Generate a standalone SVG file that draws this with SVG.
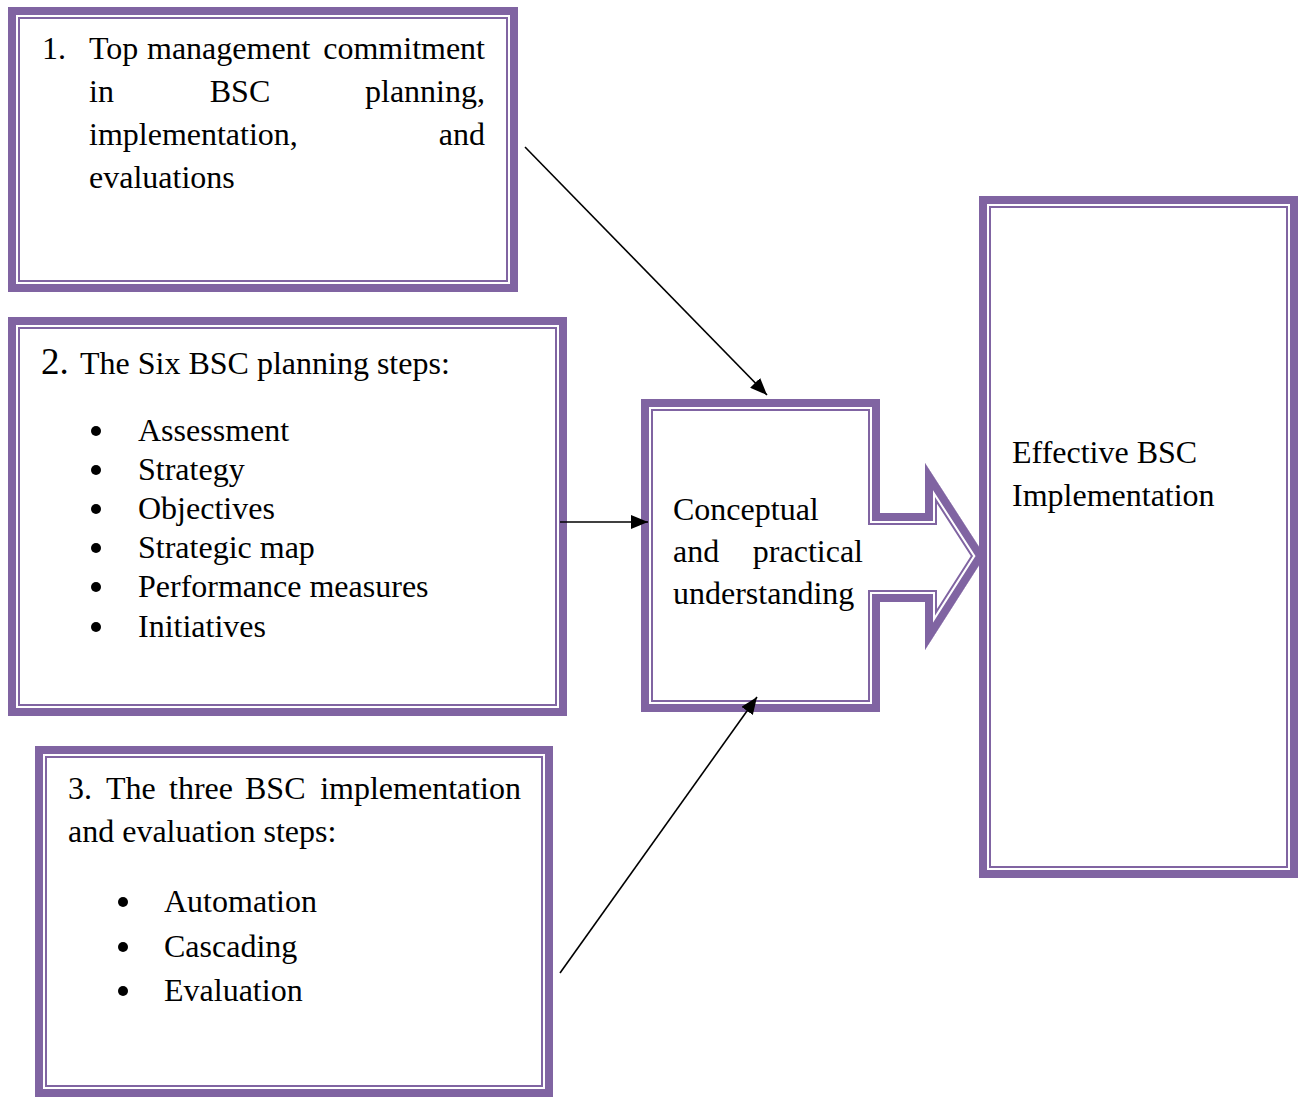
<svg xmlns="http://www.w3.org/2000/svg" width="1301" height="1097" viewBox="0 0 1301 1097">
<style>
.thick{fill:none;stroke:#8064A2;stroke-width:8}
.thin{fill:none;stroke:#8064A2;stroke-width:2}
.t{font-family:"Liberation Serif","Times New Roman",serif;font-size:32px;fill:#000}
.num{font-family:"Liberation Serif","Times New Roman",serif;font-size:37px;fill:#000}
.conn{stroke:#000;stroke-width:1.6;fill:none}
.bul{fill:#000}
</style>
<defs>
<marker id="ah" markerUnits="userSpaceOnUse" markerWidth="18" markerHeight="14" refX="17" refY="7" orient="auto">
<path d="M0,0 L17,7 L0,14 Z" fill="#000"/>
</marker>
<polygon id="cshape" points="641,399 880,399 880,513 925,513 925,463 985,556 925,650 925,602 880,602 880,712 641,712"/>
<clipPath id="cclip"><use href="#cshape"/></clipPath>
</defs>
<rect width="1301" height="1097" fill="#fff"/>

<g id="box1">
<rect class="thick" x="12" y="11" width="502" height="277"/>
<rect class="thin" x="19" y="18" width="488" height="263"/>
<text class="t" x="42" y="59">1.</text>
<text class="t" x="89" y="59">Top</text>
<text class="t" x="147" y="59">management</text>
<text class="t" x="485" y="59" text-anchor="end">commitment</text>
<text class="t" x="89" y="102">in</text>
<text class="t" x="240" y="102" text-anchor="middle">BSC</text>
<text class="t" x="485" y="102" text-anchor="end">planning,</text>
<text class="t" x="89" y="145">implementation,</text>
<text class="t" x="485" y="145" text-anchor="end">and</text>
<text class="t" x="89" y="188">evaluations</text>
</g>

<g id="box2">
<rect class="thick" x="12" y="321" width="551" height="391"/>
<rect class="thin" x="19" y="328" width="537" height="377"/>
<text class="num" x="41" y="374">2.</text>
<text class="t" x="80" y="374">The Six BSC planning steps:</text>
<g class="bul">
<circle cx="96" cy="431" r="5"/>
<circle cx="96" cy="470" r="5"/>
<circle cx="96" cy="509" r="5"/>
<circle cx="96" cy="548" r="5"/>
<circle cx="96" cy="587" r="5"/>
<circle cx="96" cy="627" r="5"/>
</g>
<g class="t">
<text x="138" y="441">Assessment</text>
<text x="138" y="480">Strategy</text>
<text x="138" y="519">Objectives</text>
<text x="138" y="558">Strategic map</text>
<text x="138" y="597">Performance measures</text>
<text x="138" y="637">Initiatives</text>
</g>
</g>

<g id="box3">
<rect class="thick" x="39" y="750" width="510" height="343"/>
<rect class="thin" x="46" y="757" width="496" height="329"/>
<text class="t" x="68" y="799">3.</text>
<text class="t" x="106" y="799">The</text>
<text class="t" x="169" y="799">three</text>
<text class="t" x="245" y="799">BSC</text>
<text class="t" x="521" y="799" text-anchor="end">implementation</text>
<text class="t" x="68" y="842">and evaluation steps:</text>
<g class="bul">
<circle cx="123" cy="902" r="5"/>
<circle cx="123" cy="947" r="5"/>
<circle cx="123" cy="991" r="5"/>
</g>
<g class="t">
<text x="164" y="912">Automation</text>
<text x="164" y="957">Cascading</text>
<text x="164" y="1001">Evaluation</text>
</g>
</g>

<g id="center">
<g clip-path="url(#cclip)">
<use href="#cshape" fill="#fff"/>
<use href="#cshape" fill="none" stroke="#8064A2" stroke-width="24" stroke-linejoin="miter" stroke-miterlimit="10"/>
<use href="#cshape" fill="none" stroke="#fff" stroke-width="20" stroke-linejoin="miter" stroke-miterlimit="10"/>
<use href="#cshape" fill="none" stroke="#8064A2" stroke-width="16" stroke-linejoin="miter" stroke-miterlimit="10"/>
</g>
<text class="t" x="673" y="520">Conceptual</text>
<text class="t" x="673" y="562">and</text>
<text class="t" x="863" y="562" text-anchor="end">practical</text>
<text class="t" x="673" y="604">understanding</text>
</g>

<g id="effective">
<rect class="thick" x="983" y="200" width="311" height="674"/>
<rect class="thin" x="990" y="207" width="297" height="660"/>
<text class="t" x="1012" y="463">Effective BSC</text>
<text class="t" x="1012" y="506">Implementation</text>
</g>

<g id="connectors">
<line class="conn" x1="525" y1="147" x2="767" y2="395" marker-end="url(#ah)"/>
<line class="conn" x1="560" y1="522" x2="648" y2="522" marker-end="url(#ah)"/>
<line class="conn" x1="560" y1="973" x2="757" y2="697" marker-end="url(#ah)"/>
</g>
</svg>
